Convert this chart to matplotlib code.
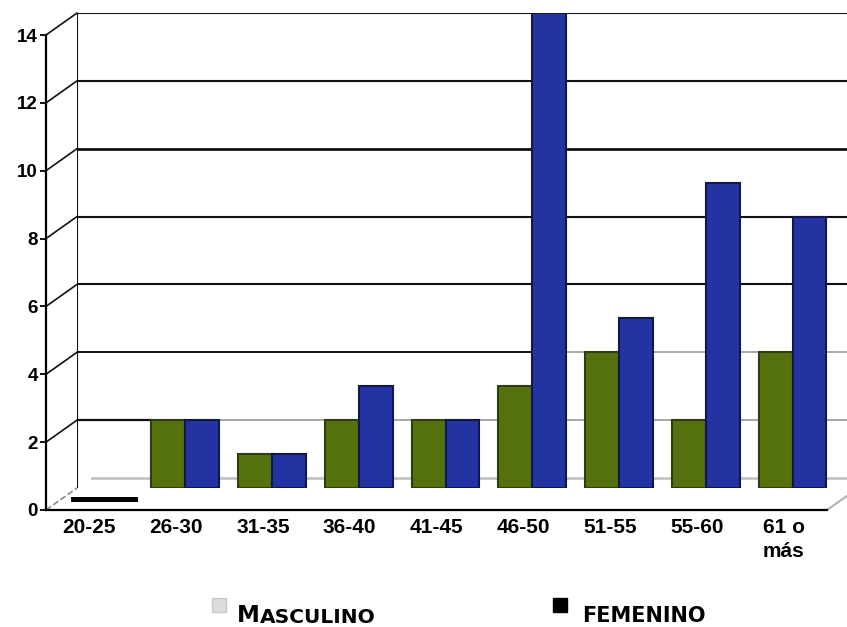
import matplotlib.pyplot as plt
from matplotlib.lines import Line2D
import numpy as np

# datos
categorias = ["20-25", "26-30", "31-35", "36-40", "41-45", "46-50", "51-55", "55-60", "61 o\nmás"]
masculino = [0, 2, 1, 2, 2, 3, 4, 2, 4]
femenino = [0, 2, 1, 3, 2, 14, 5, 9, 8]
yticks = [0, 2, 4, 6, 8, 10, 12, 14]

verde = "#55720f"
verde_borde = "#2e3f08"
azul = "#2334a2"
azul_borde = "#0e1752"

W, H = 847, 627
fig = plt.figure(figsize=(W / 100, H / 100), dpi=100)
fig.patch.set_facecolor("white")

# pared del fondo (back wall) y barras
ax = fig.add_axes([77 / W, (H - 488) / H, 770 / W, 475 / H])
ax.set_xlim(-0.248, 8.628)
ax.set_ylim(0, 14)
ax.axis("off")

# eje frontal (front axis) con etiquetas
fx = fig.add_axes([46 / W, (H - 510) / H, 781 / W, 475 / H])
fx.set_xlim(-0.5, 8.5)
fx.set_ylim(0, 14)
fx.patch.set_visible(False)
for s in ["top", "right"]:
    fx.spines[s].set_visible(False)
fx.spines["left"].set_linewidth(1.6)
fx.spines["bottom"].set_linewidth(1.6)
fx.set_yticks(yticks)
fx.set_yticklabels([str(v) for v in yticks], fontsize=13.5, fontweight="bold",
                   family=["Liberation Sans", "DejaVu Sans"])
fx.tick_params(axis="y", length=4, width=1.3, pad=2)
x = np.arange(len(categorias))
fx.set_xticks(x)
fx.set_xticklabels(categorias, fontsize=15, fontweight="bold",
                   family=["Liberation Sans", "DejaVu Sans"], linespacing=1.3)
fx.tick_params(axis="x", length=0, pad=6)

# líneas de la cuadrícula en la pared del fondo
x0 = ax.get_xlim()[0]
for v in yticks[1:]:
    if v == 2:
        ax.plot([x0, 0.6], [v, v], color="#111111", lw=1.6, zorder=1)
        ax.plot([0.6, ax.get_xlim()[1]], [v, v], color="#9a9a9a", lw=1.2, zorder=1)
    elif v == 4:
        ax.plot([x0, 5.0], [v, v], color="#111111", lw=1.4, zorder=1)
        ax.plot([5.0, ax.get_xlim()[1]], [v, v], color="#9a9a9a", lw=1.2, zorder=1)
    else:
        ax.axhline(v, color="#111111", lw=1.5 if v != 10 else 2.0, zorder=1)
ax.plot([x0, x0], [0, 14], color="#111111", lw=1.5, zorder=1)
ax.axhline(0.3, xmin=0.02, color="#c4c4c4", lw=2.0, zorder=1)

# diagonales entre eje frontal y pared
inv = ax.transData.inverted()
for v in yticks:
    fxp, fyp = inv.transform(fx.transData.transform((-0.5, v)))
    col = "#111111" if v > 0 else "#8a8a8a"
    ax.plot([fxp, x0], [fyp, v], color=col, lw=1.2, clip_on=False, zorder=1,
            ls="-" if v > 0 else "--")
# borde derecho del piso
rxp, ryp = inv.transform(fx.transData.transform((8.5, 0)))
ax.plot([rxp, rxp + 0.25], [ryp, ryp + 0.45], color="#b0b0b0", lw=1.5, clip_on=False)

# barras
w = 0.39
for i in range(len(categorias)):
    if masculino[i] == 0 and femenino[i] == 0:
        ax.bar(x[i] + 0.07, 0.16, 2 * w, bottom=-0.42, color="black", clip_on=False, zorder=3)
        continue
    ax.bar(x[i] - w / 2, masculino[i], w, color=verde, edgecolor=verde_borde,
           lw=1.5, zorder=3)
    ax.bar(x[i] + w / 2, femenino[i], w, color=azul, edgecolor=azul_borde,
           lw=1.5, zorder=3)

# leyenda
fam = ["DejaVu Sans"]
fig.add_artist(Line2D([219 / W], [(H - 605) / H], marker="s", ms=10, color="#dcdcdc",
                      mec="#c8c8c8", transform=fig.transFigure))
m = fig.text(237 / W, (H - 622) / H, "M", fontsize=16.5, fontweight="bold",
             family=fam, va="baseline")
fig.canvas.draw()
ax.annotate("ASCULINO", xy=(1, 0), xycoords=m, fontsize=14.5, fontweight="bold",
            family=fam, va="bottom", ha="left")
fig.add_artist(Line2D([560 / W], [(H - 605) / H], marker="s", ms=10, color="black",
                      transform=fig.transFigure))
fig.text(582 / W, (H - 622) / H, "FEMENINO", fontsize=15, fontweight="bold",
         family=fam, va="baseline")

fig.savefig("out.png", dpi=100, facecolor="white")
